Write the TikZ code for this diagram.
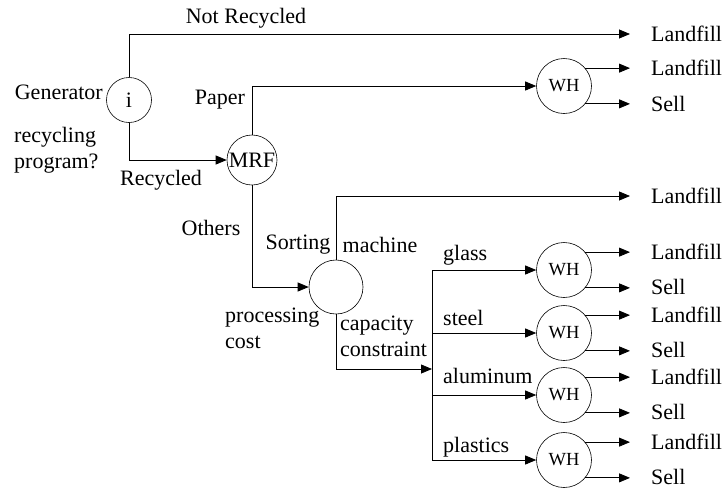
\documentclass[tikz,border=0pt]{standalone}
\usepackage{fontspec}
\setmainfont{Liberation Serif}
\usetikzlibrary{arrows.meta}

\tikzset{
  arr/.style={-{Triangle[length=11pt,width=9pt]}, line width=0.8pt},
  flow/.style={line width=0.8pt},
  proc/.style={circle, draw, line width=0.6pt, inner sep=0pt},
  whnode/.style={proc, minimum size=55pt, font=\fontsize{18.5}{20}\selectfont},
  outlbl/.style={anchor=west, inner xsep=21pt, inner ysep=0pt},
  lbl/.style={inner sep=0pt, align=left},
}

\begin{document}
\begin{tikzpicture}[x=1pt, y=-1pt, font=\fontsize{22}{26}\selectfont]
  \useasboundingbox (0,0) rectangle (726,491);

  % Generator
  \node[proc, minimum size=45pt] (gen) at (129,100) {i};
  \node[lbl, anchor=east] (genlbl) at (103,92) {Generator};
  \node[lbl, anchor=west] (prog) at (14,150) {recycling\\program?};

  % Not recycled
  \node[outlbl] (lf0) at (630,34) {Landfill};
  \node[lbl] (notrec) at (246,18) {Not Recycled};
  \draw[arr] (gen.north) |- (lf0.west);

  % Recycled -> MRF
  \node[proc, minimum size=50pt] (mrf) at (252,160) {MRF};
  \node[lbl] (rec) at (161,180) {Recycled};
  \draw[arr] (gen.south) |- (mrf.west);

  % Paper -> warehouse
  \node[whnode] (wh0) at (564,86) {WH};
  \node[lbl] (paper) at (220,100) {Paper};
  \draw[arr] (mrf.north) |- (wh0.west);
  \node[outlbl] (wh0-lf) at (630,68) {Landfill};
  \node[outlbl] (wh0-sl) at (630,104) {Sell};
  \draw[arr] (wh0.40) -- (wh0.40 -| wh0-lf.west);
  \draw[arr] (wh0.-40) -- (wh0.-40 -| wh0-sl.west);

  % Others -> sorting machine
  \node[proc, minimum size=54pt] (sorter) at (336,287) {};
  \node[lbl] (others) at (211,228) {Others};
  \node[lbl] (sortlbl) at (298,245) {Sorting};
  \node[lbl] (machlbl) at (380,245) {machine};
  \node[lbl, anchor=west] (cost) at (225,328) {processing\\cost};
  \node[lbl, anchor=west] (capac) at (340,336) {capacity\\constraint};
  \draw[arr] (mrf.south) |- (sorter.west);

  % Sorting residue
  \node[outlbl] (lf2) at (630,196) {Landfill};
  \draw[arr] (sorter.north) |- (lf2.west);

  % Separated materials
  \coordinate (bus) at (432,369);
  \draw[arr] (sorter.south) |- (bus);
  \foreach \name/\y/\mat/\ly in {whg/270/glass/255, whs/333/steel/318,
                                 wha/395/aluminum/376, whp/460/plastics/447} {
    \node[whnode] (\name) at (564,\y) {WH};
    \node[lbl, anchor=west] (\name-mat) at (443,\ly) {\mat};
    \node[outlbl] (\name-lf) at (630,\y-18) {Landfill};
    \node[outlbl] (\name-sl) at (630,\y+17) {Sell};
    \draw[arr] (bus |- \name.west) -- (\name.west);
    \draw[arr] (\name.40) -- (\name.40 -| \name-lf.west);
    \draw[arr] (\name.-40) -- (\name.-40 -| \name-sl.west);
  }
  \draw[flow] (bus |- whg.west) -- (bus |- whp.west);

\end{tikzpicture}
\end{document}
